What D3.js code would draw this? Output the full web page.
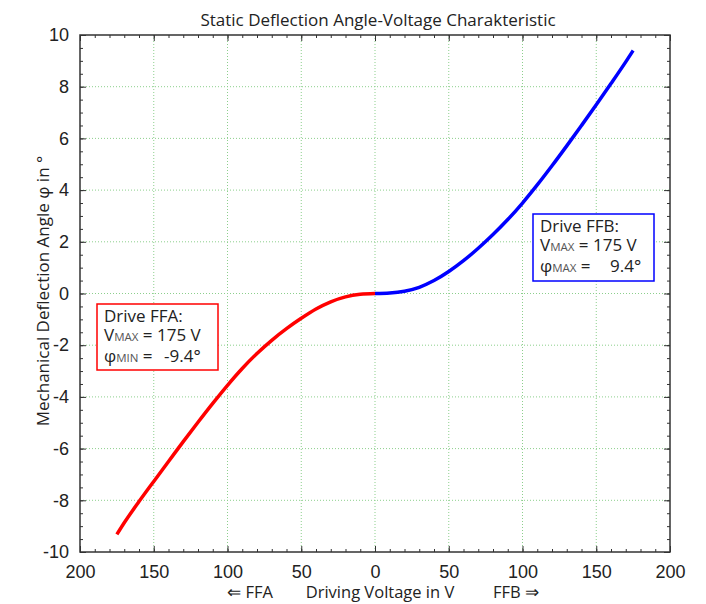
<!DOCTYPE html>
<html lang="en">
<head>
  <meta charset="utf-8">
  <title>Static Deflection Angle-Voltage Charakteristic</title>
  <script src="https://d3js.org/d3.v7.min.js"></script>
  <style>
    body { margin: 0; background: #fff; }
    .lbl { font-family: "Open Sans", "Noto Sans", sans-serif; fill: #222; }
    .tick text { font-family: "Liberation Sans", Arial, sans-serif; font-size: 18px; fill: #222; }
  </style>
</head>
<body>
  <div id="chart"></div>

  <script>
    // drive FFA (negative side, plotted to the left)
    const voltFFA = [0, -10, -20, -30, -40, -50, -60, -70, -80, -90, -100, -110, -120, -130, -140, -150, -160, -170, -175];
    const angleFFA = [0, -0.03, -0.13, -0.32, -0.6, -0.96, -1.36, -1.81, -2.32, -2.9, -3.55, -4.25, -4.98, -5.73, -6.5, -7.27, -8.05, -8.87, -9.32];

    // drive FFB (positive side)
    const voltFFB = [0, 10, 20, 30, 40, 50, 60, 70, 80, 90, 100, 110, 120, 130, 140, 150, 160, 170, 175];
    const angleFFB = [0, 0.02, 0.09, 0.24, 0.5, 0.85, 1.27, 1.75, 2.28, 2.86, 3.5, 4.2, 4.94, 5.71, 6.5, 7.3, 8.12, 8.96, 9.4];

    const xTicks = [-200, -150, -100, -50, 0, 50, 100, 150, 200];
    const yTicks = [-10, -8, -6, -4, -2, 0, 2, 4, 6, 8, 10];

    const width = 706, height = 604;
    const margin = { top: 35, right: 36, bottom: 52, left: 80 };

    const svg = d3.select("#chart")
      .append("svg")
      .attr("width", width)
      .attr("height", height);

    const x = d3.scaleLinear().domain([-200, 200]).range([margin.left, width - margin.right]);
    const y = d3.scaleLinear().domain([-10, 10]).range([height - margin.bottom, margin.top]);

    // grid
    const grid = svg.append("g")
      .attr("stroke", "#8ccf8c")
      .attr("stroke-width", 1)
      .attr("stroke-dasharray", "1,2");
    grid.selectAll(".gx")
      .data(xTicks.slice(1, -1))
      .join("line")
      .attr("x1", d => x(d)).attr("x2", d => x(d))
      .attr("y1", y(10)).attr("y2", y(-10));
    grid.selectAll(".gy")
      .data(yTicks.slice(1, -1))
      .join("line")
      .attr("x1", x(-200)).attr("x2", x(200))
      .attr("y1", d => y(d)).attr("y2", d => y(d));

    // minor ticks on all four sides, pointing inwards
    const minorX = d3.range(-200, 201, 10);
    const minorY = d3.range(-10, 10.01, 0.5);
    const fmtX = d => String(Math.abs(d));
    const fmtY = d => String(d);

    svg.append("g")
      .attr("transform", `translate(0,${y(-10)})`)
      .call(d3.axisBottom(x).tickValues(minorX).tickSize(-3).tickFormat(""))
      .call(g => g.select(".domain").remove());
    svg.append("g")
      .attr("transform", `translate(0,${y(10)})`)
      .call(d3.axisTop(x).tickValues(minorX).tickSize(-3).tickFormat(""))
      .call(g => g.select(".domain").remove());
    svg.append("g")
      .attr("transform", `translate(${x(-200)},0)`)
      .call(d3.axisLeft(y).tickValues(minorY).tickSize(-3).tickFormat(""))
      .call(g => g.select(".domain").remove());
    svg.append("g")
      .attr("transform", `translate(${x(200)},0)`)
      .call(d3.axisRight(y).tickValues(minorY).tickSize(-3).tickFormat(""))
      .call(g => g.select(".domain").remove());

    // major ticks with labels
    svg.append("g")
      .attr("transform", `translate(0,${y(-10)})`)
      .call(d3.axisBottom(x).tickValues(xTicks).tickSize(-6).tickPadding(13).tickFormat(fmtX))
      .call(g => g.select(".domain").remove());
    svg.append("g")
      .attr("transform", `translate(0,${y(10)})`)
      .call(d3.axisTop(x).tickValues(xTicks).tickSize(-6).tickFormat(""))
      .call(g => g.select(".domain").remove());
    svg.append("g")
      .attr("transform", `translate(${x(-200)},0)`)
      .call(d3.axisLeft(y).tickValues(yTicks).tickSize(-6).tickPadding(11).tickFormat(fmtY))
      .call(g => g.select(".domain").remove());
    svg.append("g")
      .attr("transform", `translate(${x(200)},0)`)
      .call(d3.axisRight(y).tickValues(yTicks).tickSize(-6).tickFormat(""))
      .call(g => g.select(".domain").remove());

    svg.selectAll(".tick line").attr("stroke", "#333");

    // frame
    svg.append("rect")
      .attr("x", x(-200)).attr("y", y(10))
      .attr("width", x(200) - x(-200)).attr("height", y(-10) - y(10))
      .attr("fill", "none")
      .attr("stroke", "#333")
      .attr("stroke-width", 1.5);

    // curves
    const line = d3.line().curve(d3.curveMonotoneX);
    const ffa = voltFFA.map((v, i) => [x(v), y(angleFFA[i])]).reverse();
    const ffb = voltFFB.map((v, i) => [x(v), y(angleFFB[i])]);

    svg.append("path")
      .attr("d", line(ffa))
      .attr("fill", "none")
      .attr("stroke", "#ff0000")
      .attr("stroke-width", 3.5);
    svg.append("path")
      .attr("d", line(ffb))
      .attr("fill", "none")
      .attr("stroke", "#0000ff")
      .attr("stroke-width", 3.5);

    // title and axis labels
    svg.append("text")
      .attr("class", "lbl")
      .attr("x", 378).attr("y", 26)
      .attr("text-anchor", "middle")
      .attr("font-size", 17)
      .text("Static Deflection Angle-Voltage Charakteristic");

    svg.append("text")
      .attr("class", "lbl")
      .attr("transform", "translate(49,291) rotate(-90)")
      .attr("text-anchor", "middle")
      .attr("font-size", 17)
      .text("Mechanical Deflection Angle φ in °");

    const xl = svg.append("g").attr("class", "lbl").attr("font-size", 16.5);
    xl.append("text").attr("x", 250).attr("y", 598).attr("text-anchor", "middle").text("⇐ FFA");
    xl.append("text").attr("x", 380).attr("y", 598).attr("text-anchor", "middle").text("Driving Voltage in V");
    xl.append("text").attr("x", 516).attr("y", 598).attr("text-anchor", "middle").text("FFB ⇒");

    // annotation boxes
    function infoBox(bx, by, bw, bh, col, name, phiSub, phiVal, valX) {
      const g = svg.append("g");
      g.append("rect")
        .attr("x", bx).attr("y", by)
        .attr("width", bw).attr("height", bh)
        .attr("fill", "#fff")
        .attr("stroke", col)
        .attr("stroke-width", 1.5);
      const tx = bx + 7;
      g.append("text").attr("class", "lbl").attr("font-size", 17)
        .attr("x", tx).attr("y", by + 18).text("Drive " + name + ":");
      const t2 = g.append("text").attr("class", "lbl").attr("font-size", 17)
        .attr("x", tx).attr("y", by + 37);
      t2.append("tspan").text("V");
      t2.append("tspan").attr("font-size", 11.5).attr("fill", "#555").text("MAX");
      t2.append("tspan").text(" = 175 V");
      const t3 = g.append("text").attr("class", "lbl").attr("font-size", 17)
        .attr("x", tx).attr("y", by + 58);
      t3.append("tspan").text("φ");
      t3.append("tspan").attr("font-size", 11.5).attr("fill", "#555").text(phiSub);
      t3.append("tspan").text(" =");
      g.append("text").attr("class", "lbl").attr("font-size", 17)
        .attr("x", valX).attr("y", by + 58).text(phiVal);
    }

    infoBox(97, 304, 121, 66, "#ff0000", "FFA", "MIN", "-9.4°", 164);
    infoBox(533, 214, 121, 67, "#0000ff", "FFB", "MAX", "9.4°", 610);
  </script>
</body>
</html>
